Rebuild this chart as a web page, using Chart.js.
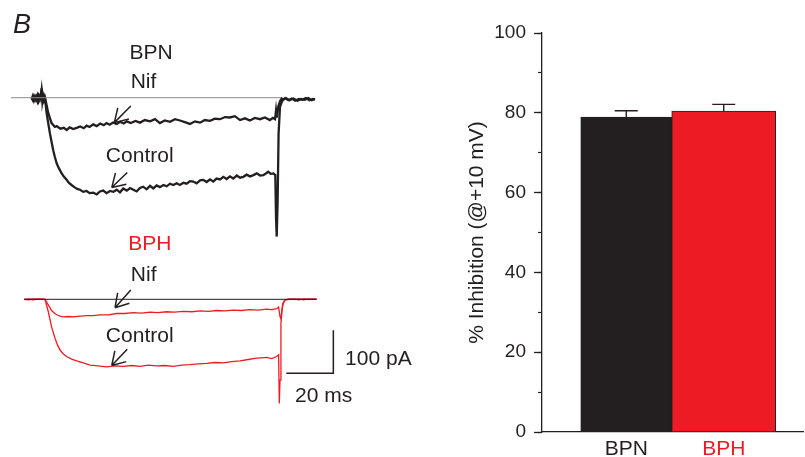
<!DOCTYPE html>
<html>
<head>
<meta charset="utf-8">
<title>Inhibition by nifedipine, BPN vs BPH</title>
<script src="https://cdn.jsdelivr.net/npm/chart.js@4.4.1/dist/chart.umd.min.js"></script>
<style>
  html, body { margin: 0; padding: 0; background: #fff; }
  #fig { position: relative; width: 805px; height: 457px; overflow: hidden; background: #fff; }
  canvas { position: absolute; }
</style>
</head>
<body>
<div id="fig">
  <canvas id="bpnTraces" width="330" height="245" style="left:0px;top:0px"></canvas>
  <canvas id="bphTraces" width="420" height="232" style="left:0px;top:225px"></canvas>
  <canvas id="inhibition" width="345" height="457" style="left:460px;top:0px"></canvas>
</div>
<script>
const INK = '#231f20'
const RED = '#ed1c24'
const FAMILY = "'Liberation Sans', Arial, Helvetica, sans-serif"
Chart.defaults.font.family = FAMILY
Chart.defaults.color = INK

// ---- current traces: time in ms from step onset, current in pA ----
// BPN, nifedipine
const bpnNifT = [-5.7,-5.2,-4.7,-4.2,-3.7,-3.2,-2.7,-2.2,-1.8,-1.4,-1.1,-0.7,-0.3,0,
  1.4,2.8,4.2,5.0,6.5,8.0,9.2,10.5,12,13.5,
  15,16.5,17.7,19,20.5,22,23.5,25,26.2,27.5,
  29,30.5,32,33.5,34.8,36.5,38.5,40.4,42.5,44.7,
  46.8,48.9,51,53.2,55.3,57.4,59.5,61.7,63.8,66,
  68,70.2,72.3,74.5,76.6,78.7,80.8,83,85.1,87.2,
  89.3,91.5,93.6,95.7,97.0,97.9,98.3,98.6,99.3,100,
  100.7,101.4,102.5,104,105.7,107.5,109,110.5,112,113.5,114.9]
const bpnNifI = [-1,-6,3,-5,2,-8,4,-4,6,22,-9,4,-5,0,
  -36,-59,-68,-66,-72,-70,-75,-69,-73,-70,
  -67,-71,-65,-68,-62,-66,-60,-64,-59,-63,
  -58,-61,-56,-60,-55,-59,-54,-58,-52,-55,
  -50,-59,-53,-56,-50,-53,-57,-61,-55,-58,
  -52,-54,-49,-50,-45,-46,-43,-52,-48,-53,
  -47,-50,-46,-52,-47,-50,-30,-46,-20,-8,
  -2,-5,-1,-6,-2,-7,-3,-5,-1,-6,-3]

// BPN, control
const bpnCtlT = [-5.7,-5.2,-4.7,-4.2,-3.7,-3.2,-2.7,-2.2,-1.8,-1.4,-1.1,-0.7,-0.3,0,
  0.7,1.4,2.1,2.8,3.5,4.2,5.0,6.0,7.1,8.1,
  9.2,10.2,11.3,12.5,13.7,14.9,16.3,17.7,19,20.6,
  22,23.4,24.8,26.2,27.7,29.1,30.5,31.9,33.3,34.8,
  36.2,37.6,39,40.4,41.8,43.2,44.7,46.1,47.5,48.9,
  50.4,51.8,53.2,54.6,56,57.4,58.9,60.3,61.7,63.1,
  64.5,66,67.4,68.8,70.2,71.6,73,74.5,75.9,77.3,
  78.7,80.1,81.6,83,84.4,85.8,87.2,88.7,90.1,91.5,
  92.9,94.3,95,96,97.2,98.0,98.3,98.6,99.0,99.4,
  100,101.1,102.3,103.5,105,106.5,108,109.5,111,112.5,114,114.9]
const bpnCtlI = [-3,4,-6,3,-4,5,-7,3,-2,18,2,-6,3,-2,
  -36,-60,-83,-103,-122,-138,-153,-165,-176,-184,
  -191,-198,-203,-208,-212,-214,-219,-217,-222,-221,
  -225,-218,-216,-222,-217,-219,-214,-220,-211,-216,
  -210,-214,-218,-210,-207,-213,-205,-211,-204,-208,
  -203,-206,-200,-203,-199,-203,-198,-200,-194,-195,
  -199,-192,-191,-196,-190,-195,-188,-190,-184,-189,
  -183,-188,-181,-186,-184,-179,-183,-180,-176,-181,
  -180,-175,-172,-177,-176,-180,-277,-323,-238,-83,
  -21,-5,-1,-6,-2,-7,-3,-5,-1,-6,-3,-4]

// BPH, nifedipine
const bphNifT = [-8.9,-7,-5,-3,-1.5,0,1.4,2.8,4.2,5.0,
  6.4,7.8,10,12.1,15,17.7,20.5,23.4,27,30.5,
  34,37.6,41,44.7,48,51.8,55,58.9,62.5,66,
  69.5,73,76.5,80.1,83.5,87.2,90.8,94.3,96.5,98.6,
  99.4,100,100.4,100.8,101.4,102.1,104,106,108,110,
  112,114,115.6]
const bphNifI = [0,1,-1,1,0,0,-13,-26,-33,-36,
  -39,-41,-40,-41,-39,-38,-38,-36,-36,-33,
  -33,-31,-32,-30,-31,-29,-30,-28,-29,-27,
  -28,-26,-27,-25,-26,-24,-25,-23,-24,-22,
  -18,-40,-45,-25,-10,-2,0,1,-1,1,
  0,1,0]

// BPH, control
const bphCtlT = [-8.9,-7,-5,-3,-1.5,0,1.4,2.8,4.3,5.3,
  6.4,7.8,9.2,11.3,13.5,16.3,19.1,22.6,26.2,29.8,
  33.3,36.9,40.4,44,47.5,51,54.6,58.2,61.7,65.3,
  68.8,72.3,75.9,79.4,83,86.5,90.1,92.2,94.3,96.5,
  98.6,99.4,99.7,100,100.4,101.1,102.1,104,106,108,
  110,112,114,115.6]
const bphCtlI = [0,-1,1,0,1,0,-29,-64,-91,-106,
  -118,-127,-133,-139,-143,-148,-153,-155,-157,-155,
  -156,-154,-156,-153,-155,-154,-156,-153,-152,-150,
  -149,-147,-148,-145,-143,-140,-137,-136,-135,-138,
  -133,-129,-242,-188,-56,-11,-1,1,0,1,
  -1,1,0,1]

// zero-current lines and calibration bar (20 ms, 100 pA)
const bpnZeroT = [-14.5, 100.5]
const bphZeroT = [-8.9, 115.6]
const scaleBarT = [102.7, 122.7, 122.7]
const scaleBarI = [-172, -172, -72]

// ---- bar chart ----
const groups = ['BPN', 'BPH']
const inhibition = [78.9, 80.4]
const inhibitionSem = [1.6, 1.7]

const MS_PX = 2.35   // px per ms on the page
const PA_PX = 0.43   // px per pA
const ONSET_X = 45   // page x of the step onset

function pts(t, i) {
  return t.map((v, k) => ({ x: v, y: i[k] }))
}

function line(t, i, color, width) {
  return { data: pts(t, i), borderColor: color, borderWidth: width, pointRadius: 0, tension: 0, fill: false }
}

function drawNotes(chart, notes) {
  const { ctx, scales: { x, y } } = chart
  ctx.save()
  notes.forEach(n => {
    if (n.arrow) {
      const [t0, i0, t1, i1] = n.arrow
      const x0 = x.getPixelForValue(t0), y0 = y.getPixelForValue(i0)
      const x1 = x.getPixelForValue(t1), y1 = y.getPixelForValue(i1)
      const a = Math.atan2(y1 - y0, x1 - x0)
      ctx.strokeStyle = INK
      ctx.lineWidth = 1.5
      ctx.beginPath()
      ctx.moveTo(x0, y0)
      ctx.lineTo(x1, y1)
      for (const s of [-1, 1]) {
        ctx.moveTo(x1, y1)
        ctx.lineTo(x1 - 15 * Math.cos(a + s * 0.55), y1 - 15 * Math.sin(a + s * 0.55))
      }
      ctx.stroke()
    } else {
      ctx.font = n.font || '21px ' + FAMILY
      ctx.fillStyle = n.color || INK
      ctx.textAlign = n.align || 'center'
      ctx.textBaseline = n.baseline || 'middle'
      ctx.fillText(n.text, x.getPixelForValue(n.t), y.getPixelForValue(n.i))
    }
  })
  ctx.restore()
}

function traceChart(id, zeroY, datasets, notes) {
  const cv = document.getElementById(id)
  const w = cv.width, h = cv.height
  const xMin = -ONSET_X / MS_PX
  const yMax = zeroY / PA_PX
  return new Chart(cv, {
    type: 'line',
    data: { datasets },
    options: {
      responsive: false,
      animation: false,
      devicePixelRatio: 1,
      layout: { padding: 0 },
      plugins: { legend: { display: false }, tooltip: { enabled: false } },
      scales: {
        x: { type: 'linear', display: false, min: xMin, max: xMin + w / MS_PX },
        y: { type: 'linear', display: false, min: yMax - h / PA_PX, max: yMax }
      }
    },
    plugins: [{ id: 'notes', afterDraw(chart) { drawNotes(chart, notes) } }]
  })
}

traceChart('bpnTraces', 97.7, [
  line(bpnZeroT, [0, 0], '#8c8c8c', 1),
  line(bpnNifT, bpnNifI, INK, 2.3),
  line(bpnCtlT, bpnCtlI, INK, 2.3)
], [
  { text: 'B', t: -13.6, i: 150, align: 'left', baseline: 'alphabetic', font: 'italic 27px ' + FAMILY },
  { text: 'BPN', t: 45.1, i: 103 },
  { text: 'Nif', t: 41.9, i: 36 },
  { text: 'Control', t: 40.3, i: -136 },
  { arrow: [36.5, -19.5, 29.5, -58] },
  { arrow: [35.0, -174, 28.4, -209] }
])

traceChart('bphTraces', 74.3, [
  line(bphZeroT, [0, 0], INK, 1),
  line(bphNifT, bphNifI, RED, 1.3),
  line(bphCtlT, bphCtlI, RED, 1.3),
  line(scaleBarT, scaleBarI, INK, 1.5)
], [
  { text: 'BPH', t: 44.6, i: 127, color: RED },
  { text: 'Nif', t: 42.0, i: 55 },
  { text: 'Control', t: 40.3, i: -85 },
  { arrow: [36.5, 21.7, 29.8, -19.5] },
  { arrow: [35.0, -116, 28.4, -154] },
  { text: '100 pA', t: 127.7, i: -139, align: 'left' },
  { text: '20 ms', t: 106.4, i: -226, align: 'left' }
])

// ---- % inhibition bars ----
const barColors = [INK, RED]
const barWidths = [91, 104]

const errorBars = {
  id: 'errorBars',
  afterDatasetsDraw(chart) {
    const { ctx, scales: { x, y } } = chart
    ctx.save()
    ctx.strokeStyle = INK
    ctx.lineWidth = 1.4
    groups.forEach((g, i) => {
      const cx = x.getPixelForValue(i + 1)
      const y0 = y.getPixelForValue(inhibition[i])
      const y1 = y.getPixelForValue(inhibition[i] + inhibitionSem[i])
      ctx.beginPath()
      ctx.moveTo(cx, y0)
      ctx.lineTo(cx, y1)
      ctx.moveTo(cx - 11.5, y1)
      ctx.lineTo(cx + 11.5, y1)
      ctx.stroke()
    })
    ctx.restore()
  }
}

new Chart(document.getElementById('inhibition'), {
  type: 'bar',
  data: {
    datasets: groups.map((g, i) => ({
      label: g,
      data: [{ x: i + 1, y: inhibition[i] }],
      backgroundColor: barColors[i],
      borderColor: INK,
      borderWidth: 1,
      borderSkipped: 'bottom',
      barThickness: barWidths[i],
      grouped: false
    }))
  },
  options: {
    responsive: false,
    animation: false,
    devicePixelRatio: 1,
    layout: { padding: { top: 33, right: 2, left: 0, bottom: 0 } },
    plugins: { legend: { display: false }, tooltip: { enabled: false } },
    scales: {
      x: {
        type: 'linear',
        offset: false,
        min: 0.136,
        max: 2.813,
        afterBuildTicks: s => { s.ticks = groups.map((g, i) => ({ value: i + 1 })) },
        afterFit: s => { s.height = 25 },
        grid: { display: false },
        border: { color: INK, width: 1.3 },
        ticks: {
          callback: (v, i) => groups[i],
          color: ctx => barColors[ctx.index],
          font: { size: 21 },
          padding: -3,
          maxRotation: 0
        }
      },
      yMinor: {
        type: 'linear',
        position: 'left',
        weight: 0,
        min: 0,
        max: 100,
        afterFit: s => { s.width = 0 },
        ticks: { stepSize: 10, display: false },
        grid: { drawOnChartArea: false, tickLength: 4, tickColor: INK, tickWidth: 1.2 },
        border: { display: false }
      },
      y: {
        type: 'linear',
        position: 'left',
        weight: 1,
        min: 0,
        max: 100,
        afterFit: s => { s.width = 82 },
        ticks: { stepSize: 20, font: { size: 19 }, color: INK, padding: 8 },
        grid: { drawOnChartArea: false, tickLength: 8, tickColor: INK, tickWidth: 1.3 },
        border: { color: INK, width: 1.3 },
        title: {
          display: true,
          text: '% Inhibition (@+10 mV)',
          font: { size: 21 },
          color: INK,
          padding: { top: 5, bottom: 0 }
        }
      }
    }
  },
  plugins: [errorBars]
})
</script>
</body>
</html>
